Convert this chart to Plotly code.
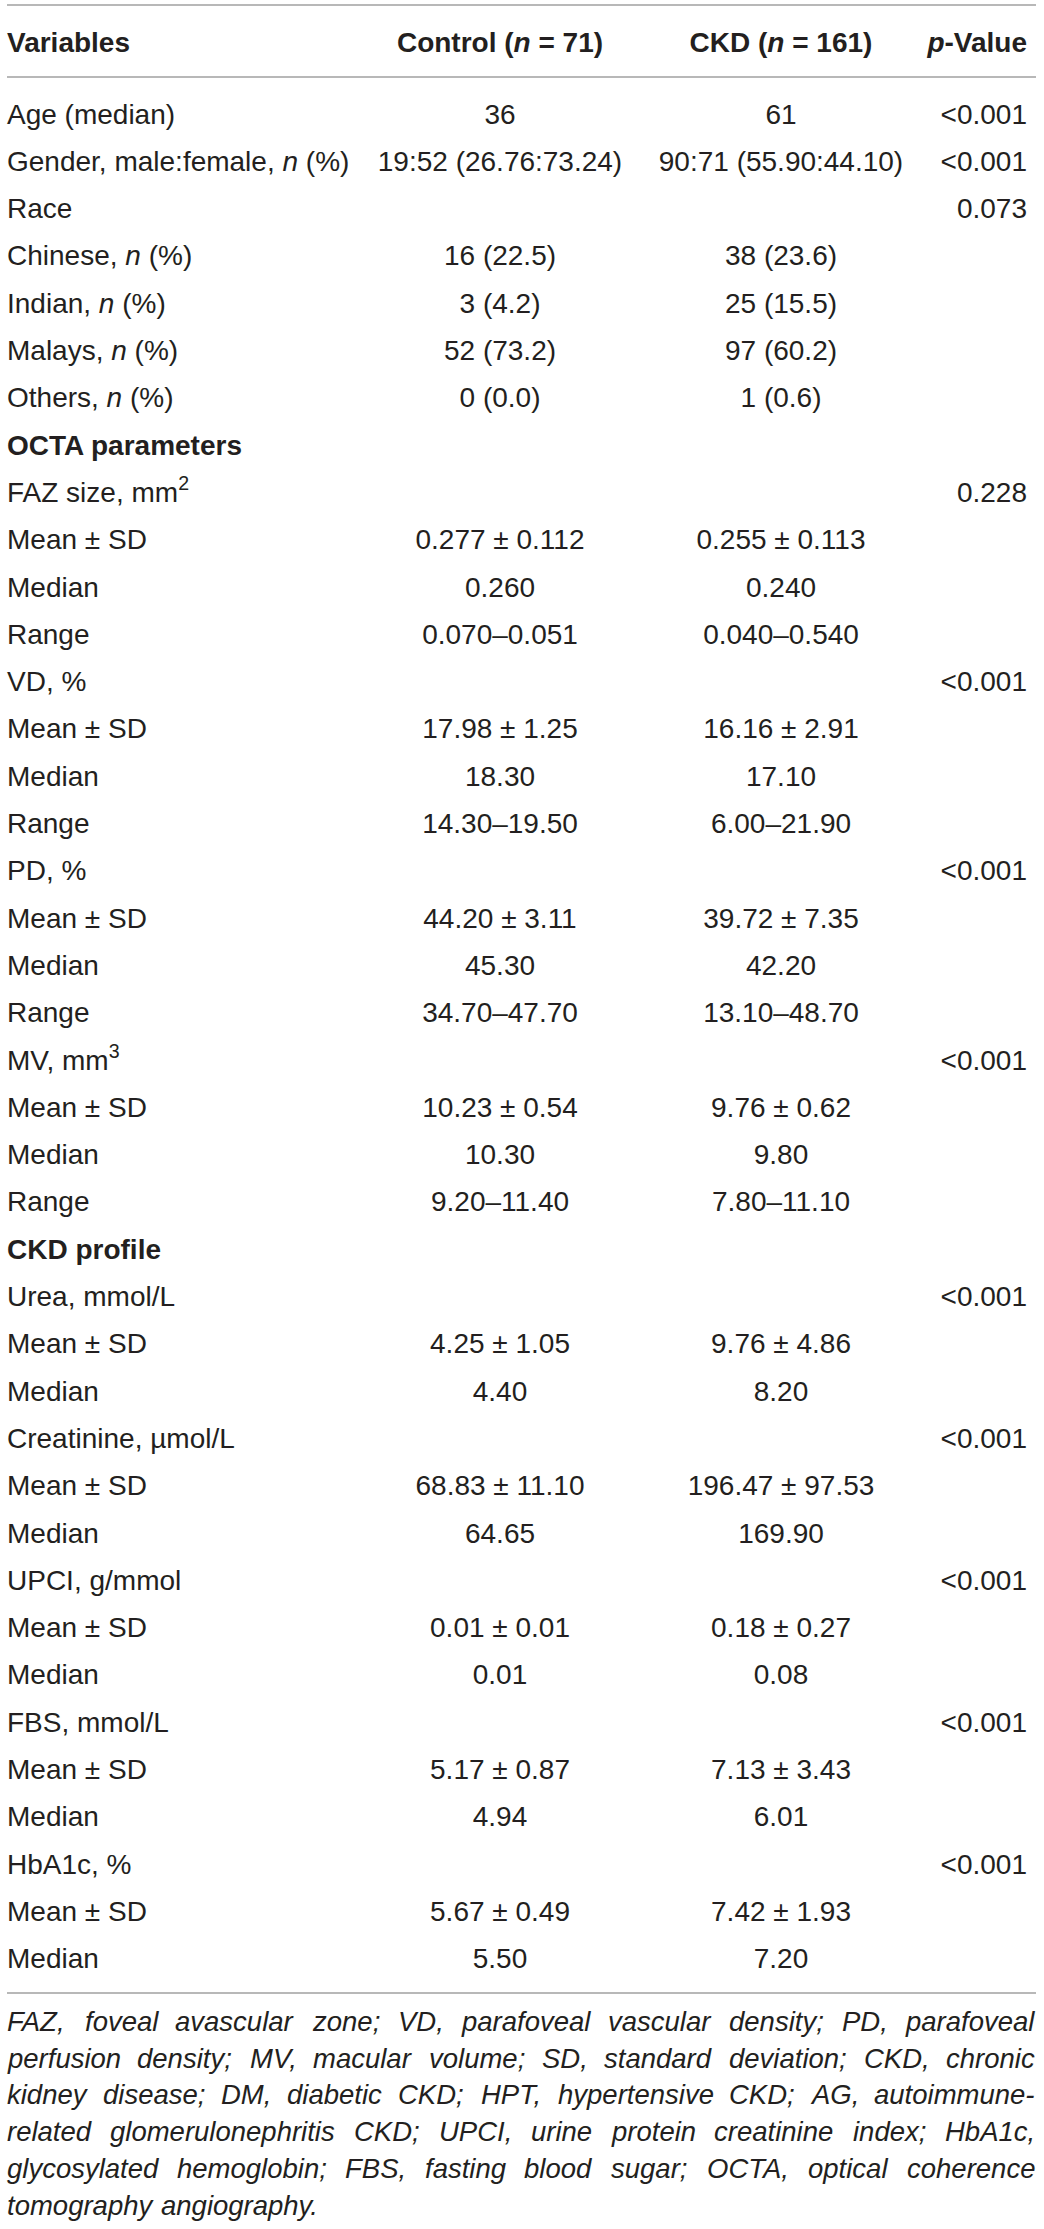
import plotly.graph_objects as go

# table content
headers = ["<b>Variables</b>", "<b>Control (<i>n</i> = 71)</b>",
           "<b>CKD (<i>n</i> = 161)</b>", "<b><i>p</i>-Value</b>"]

variables = [
    "Age (median)", "Gender, male:female, <i>n</i> (%)", "Race",
    "Chinese, <i>n</i> (%)", "Indian, <i>n</i> (%)", "Malays, <i>n</i> (%)",
    "Others, <i>n</i> (%)", "<b>OCTA parameters</b>", "FAZ size, mm<sup>2</sup>",
    "Mean ± SD", "Median", "Range", "VD, %", "Mean ± SD", "Median", "Range",
    "PD, %", "Mean ± SD", "Median", "Range", "MV, mm<sup>3</sup>", "Mean ± SD",
    "Median", "Range", "<b>CKD profile</b>", "Urea, mmol/L", "Mean ± SD", "Median",
    "Creatinine, µmol/L", "Mean ± SD", "Median", "UPCI, g/mmol", "Mean ± SD",
    "Median", "FBS, mmol/L", "Mean ± SD", "Median", "HbA1c, %", "Mean ± SD", "Median",
]

control = [
    "36", "19:52 (26.76:73.24)", "", "16 (22.5)", "3 (4.2)", "52 (73.2)", "0 (0.0)",
    "", "", "0.277 ± 0.112", "0.260", "0.070–0.051", "", "17.98 ± 1.25", "18.30",
    "14.30–19.50", "", "44.20 ± 3.11", "45.30", "34.70–47.70", "", "10.23 ± 0.54",
    "10.30", "9.20–11.40", "", "", "4.25 ± 1.05", "4.40", "", "68.83 ± 11.10",
    "64.65", "", "0.01 ± 0.01", "0.01", "", "5.17 ± 0.87", "4.94", "", "5.67 ± 0.49",
    "5.50",
]

ckd = [
    "61", "90:71 (55.90:44.10)", "", "38 (23.6)", "25 (15.5)", "97 (60.2)", "1 (0.6)",
    "", "", "0.255 ± 0.113", "0.240", "0.040–0.540", "", "16.16 ± 2.91", "17.10",
    "6.00–21.90", "", "39.72 ± 7.35", "42.20", "13.10–48.70", "", "9.76 ± 0.62",
    "9.80", "7.80–11.10", "", "", "9.76 ± 4.86", "8.20", "", "196.47 ± 97.53",
    "169.90", "", "0.18 ± 0.27", "0.08", "", "7.13 ± 3.43", "6.01", "", "7.42 ± 1.93",
    "7.20",
]

p_values = [
    "&lt;0.001", "&lt;0.001", "0.073", "", "", "", "", "", "0.228", "", "", "",
    "&lt;0.001", "", "", "", "&lt;0.001", "", "", "", "&lt;0.001", "", "", "", "",
    "&lt;0.001", "", "", "&lt;0.001", "", "", "&lt;0.001", "", "", "&lt;0.001", "",
    "", "&lt;0.001", "", "",
]

footnote = [
    "FAZ, foveal avascular zone; VD, parafoveal vascular density; PD, parafoveal",
    "perfusion density; MV, macular volume; SD, standard deviation; CKD, chronic",
    "kidney disease; DM, diabetic CKD; HPT, hypertensive CKD; AG, autoimmune-",
    "related glomerulonephritis CKD; UPCI, urine protein creatinine index; HbA1c,",
    "glycosylated hemoglobin; FBS, fasting blood sugar; OCTA, optical coherence",
    "tomography angiography.",
]

# layout (pixels); scatter text sits ~3px above its y, hence the offsets
W, H = 1044, 2229
FONT = "Liberation Sans"
INK = "#231f20"
RULE = "#a0a0a0"
SIZE = 28
NOTE_SIZE = 27.5
HEAD_Y = 45
ROW0, PITCH = 116.5, 47.3
LEFT, RIGHT = 7, 1035
COL_X = [7, 500, 781, 1027]
COL_POS = ["middle right", "middle center", "middle center", "middle left"]
NOTE_Y0, NOTE_PITCH = 2021.5, 36.7

# Arial / Liberation Sans advance widths (1/1000 em), to spread the footnote words
ADV = {" ": 278, ",": 278, ";": 278, ".": 278, "-": 333, ":": 278, "(": 333, ")": 333}
ADV.update({c: 556 for c in "0123456789"})
ADV.update(dict(zip("abcdefghijklmnopqrstuvwxyz",
                    [556, 556, 500, 556, 556, 278, 556, 556, 222, 222, 500, 222, 833,
                     556, 556, 556, 556, 333, 500, 278, 556, 500, 722, 500, 500, 500])))
ADV.update(dict(zip("ABCDEFGHIJKLMNOPQRSTUVWXYZ",
                    [667, 667, 722, 722, 667, 611, 778, 722, 278, 500, 667, 556, 833,
                     722, 778, 667, 778, 722, 667, 611, 722, 667, 944, 667, 667, 611])))


def text_width(s, size):
    return sum(ADV.get(ch, 556) for ch in s) * size / 1000


columns = [variables, control, ckd, p_values]
row_y = [ROW0 + i * PITCH for i in range(len(variables))]

fig = go.Figure()
for head, col, x, pos in zip(headers, columns, COL_X, COL_POS):
    cells = [(y, t) for y, t in zip(row_y, col) if t]
    fig.add_trace(go.Scatter(
        x=[x] * (len(cells) + 1),
        y=[HEAD_Y] + [c[0] for c in cells],
        text=[head] + [c[1] for c in cells],
        mode="text",
        textposition=pos,
        textfont=dict(family=FONT, size=SIZE, color=INK),
        hoverinfo="skip",
        showlegend=False,
    ))

# rules
for y in [5, 77, 1993]:
    fig.add_shape(type="line", x0=LEFT, x1=RIGHT + 1, y0=y, y1=y,
                  line=dict(color=RULE, width=1.5))

# justified footnote: words centred on their estimated slots, ends pinned to the margins
for k, line in enumerate(footnote):
    words = line.split(" ")
    widths = [text_width(w, NOTE_SIZE) for w in words]
    last_line = k == len(footnote) - 1
    if last_line:
        gap = text_width(" ", NOTE_SIZE)
    else:
        gap = (RIGHT - LEFT - sum(widths)) / (len(words) - 1)
    x = LEFT
    for i, (w, wd) in enumerate(zip(words, widths)):
        if i == 0:
            ax, anchor = LEFT, "left"
        elif i == len(words) - 1 and not last_line:
            ax, anchor = RIGHT, "right"
        else:
            ax, anchor = x + wd / 2, "center"
        fig.add_annotation(x=ax, y=NOTE_Y0 + k * NOTE_PITCH, xref="x", yref="y",
                           text=f"<i>{w}</i>", showarrow=False, xanchor=anchor,
                           yanchor="middle", borderpad=0, borderwidth=0,
                           font=dict(family=FONT, size=NOTE_SIZE, color=INK))
        x += wd + gap

fig.update_xaxes(range=[0, W], visible=False, fixedrange=True)
fig.update_yaxes(range=[H, 0], visible=False, fixedrange=True)
fig.update_layout(width=W, height=H, margin=dict(l=0, r=0, t=0, b=0),
                  plot_bgcolor="white", paper_bgcolor="white")

# the default page body has an 8px margin, which pushes the figure past the window
fig.write_html("out.html", config={"displayModeBar": False},
               post_script="document.body.style.margin='0';"
                           "document.body.style.overflow='hidden';")
